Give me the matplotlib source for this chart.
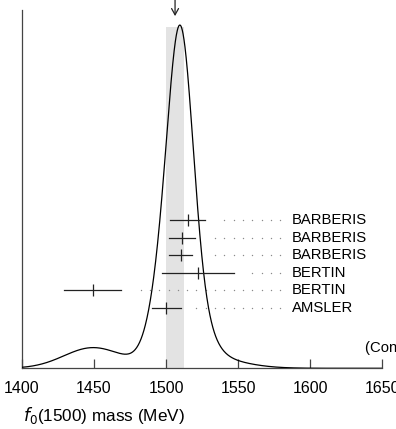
import numpy as np
import matplotlib
matplotlib.use("Agg")
import matplotlib.pyplot as plt

plt.rcParams["font.family"] = ["Liberation Sans", "DejaVu Sans"]

# ── Data (measurements, top to bottom) ───────────────────────────────────────
names  = ["BARBERIS", "BARBERIS", "BARBERIS", "BERTIN", "BERTIN", "AMSLER"]
values = [1515, 1511, 1510, 1522, 1449, 1500]   # MeV
errors = [12, 9, 8, 25, 20, 10]                 # MeV
xticks = [1400, 1450, 1500, 1550, 1600, 1650]
cl_text = "(Confidence Level = 0.075)"

vals = np.array(values, float)
errs = np.array(errors, float)

# weighted average, scaled error
w = 1 / errs**2
avg = np.sum(w * vals) / np.sum(w)
err = 1 / np.sqrt(np.sum(w))
chi2 = np.sum((vals - avg)**2 * w)
S = max(1.0, np.sqrt(chi2 / (len(vals) - 1)))
err *= S

# ideogram: gaussians with area ~ 1/sigma
xs = np.linspace(1400, 1650, 1500)
ideo = np.zeros_like(xs)
for v, e in zip(vals, errs):
    ideo += np.exp(-0.5 * ((xs - v) / e)**2) / e**2

PEAK = 0.958
ideo = ideo / ideo.max() * PEAK

# ── Figure ───────────────────────────────────────────────────────────────────
DARK = "#222222"
fig = plt.figure(figsize=(3.96, 4.29), dpi=100)
ax = fig.add_axes([22 / 396, 60.7 / 429, 360.3 / 396, 358.3 / 429])
ax.set_xlim(1400, 1650)
ax.set_ylim(0, 1)

ax.axvspan(avg - err, avg + err, ymin=0, ymax=PEAK - 0.005,
           color="#e3e3e3", lw=0, zorder=0)
ax.plot(xs, ideo, color="black", lw=0.9, zorder=3)

# measurement rows
row_y = 0.414 - 0.049 * np.arange(len(vals))
dot_grid = 1579.2 - 6.46 * np.arange(40)
for y, v, e, name in zip(row_y, vals, errs, names):
    ax.plot([v - e, v + e], [y, y], color=DARK, lw=0.9, zorder=4)
    ax.plot([v], [y], marker="|", ms=9, mew=0.9, color=DARK, zorder=4)
    d = dot_grid[dot_grid >= v + e + 10]
    ax.plot(d, np.full_like(d, y), ls="none", marker="o", ms=1.0,
            color="#8a8a8a", mec="none", zorder=2)
    ax.text(1587.5, y, name, ha="left", va="center", fontsize=10.7,
            color="black", clip_on=False)

ax.text(1638, 0.057, cl_text, ha="left", va="center", fontsize=10.7,
        clip_on=False)

# arrow at the average
ax.annotate("", xy=(avg, 0.983), xytext=(avg, 1.03), xycoords="data",
            arrowprops=dict(arrowstyle="->,head_length=0.45,head_width=0.25",
                            color=DARK, lw=0.9, shrinkA=0, shrinkB=0),
            annotation_clip=False)

for s in ["top", "right"]:
    ax.spines[s].set_visible(False)
ax.spines["left"].set_color("#444444")
ax.spines["bottom"].set_color("#444444")
ax.spines["left"].set_linewidth(0.9)
ax.spines["bottom"].set_linewidth(0.9)
ax.set_yticks([])
ax.set_xticks(xticks)
ax.set_xticklabels([str(t) for t in xticks])
ax.tick_params(axis="x", direction="in", length=6.5, width=0.9,
               color="#444444", pad=9.5, labelsize=11.5)

fig.text(23 / 396, 1 - 415 / 429, r"$f_0$(1500) mass (MeV)",
         ha="left", va="center", fontsize=12.3)

fig.savefig("out.png", dpi=100)
